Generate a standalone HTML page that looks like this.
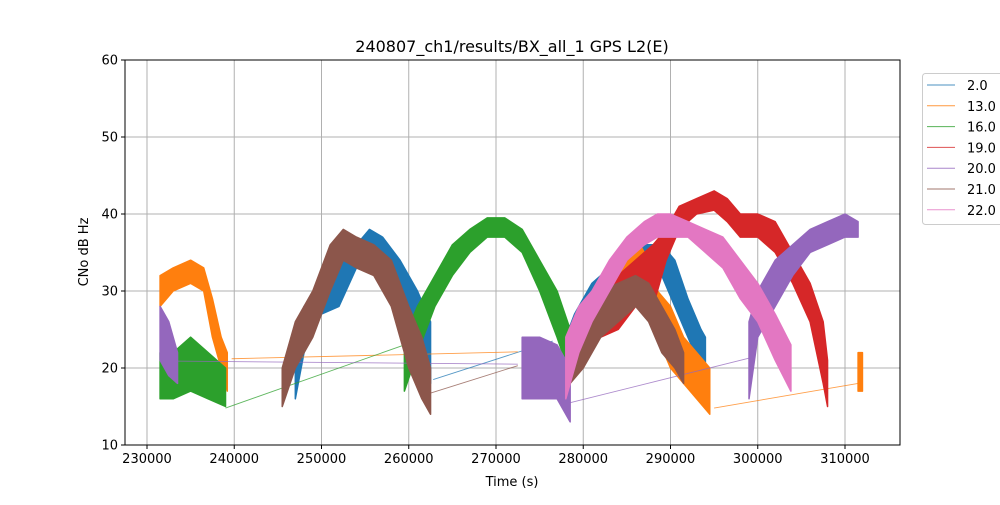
<!DOCTYPE html>
<html><head><meta charset="utf-8">
<style>
body{margin:0;background:#fff;font-family:"Liberation Sans","DejaVu Sans",sans-serif;}
svg text{font-family:"DejaVu Sans","Liberation Sans",sans-serif;}
</style></head>
<body>
<svg id="chart" width="1000" height="500" viewBox="0 0 1000 500" xmlns="http://www.w3.org/2000/svg">
<rect width="1000" height="500" fill="#fff"/>
<text x="512" y="52" font-size="16" text-anchor="middle">240807_ch1/results/BX_all_1 GPS L2(E)</text>
<g id="grid"></g>
<g id="plot"></g>
<rect x="125" y="60" width="775" height="385" fill="none" stroke="#000" stroke-width="1"/>
<g id="axes"></g>
<text x="512" y="486" font-size="13" text-anchor="middle">Time (s)</text>
<text transform="translate(88,252) rotate(-90)" font-size="13" text-anchor="middle">CNo dB Hz</text>
<g id="legend"></g>
</svg>
<script>
// ---- data (time in thousands of seconds, CNo in dB Hz) ----
const xTicks = [230000,240000,250000,260000,270000,280000,290000,300000,310000];
const yTicks = [10,20,30,40,50,60];
const seriesNames = ["2.0","13.0","16.0","19.0","20.0","21.0","22.0"];
const seriesColors = ["#1f77b4","#ff7f0e","#2ca02c","#d62728","#9467bd","#8c564b","#e377c2"];

// PRN 2.0
const t2  = [[247,248,250,252,254,255.5,257,259,261,262.5],[278,279,281,283,285,287,289,290.5,292,293.5,294]];
const lo2 = [[16,22,27,28,33,34,33,28,22,18],[20,20,25,28,31,33,32,28,24,20,19]];
const hi2 = [[22,28,31,33,36,38,37,34,30,26],[24,27,31,33,35,36,36,34,29,25,24]];
const link2 = [[262.8,18.5,276.5,23.5]];
// PRN 13.0
const t13  = [[231.5,233,235,236.5,237.5,238.5,239.2],[278,280,283,285,286.5,287.5,288.5,290,291.5,293,294.5],[311.5,312]];
const lo13 = [[28,30,31,30,24,20,17],[18,22,27,30,32,28,24,20,18,16,14],[17,17]];
const hi13 = [[32,33,34,33,29,24,22],[22,28,31,34,36,34,30,28,24,22,20],[22,22]];
const link13 = [[239.7,21.2,272.5,22.1],[295,14.8,311.5,18]];
// PRN 16.0
const t16  = [[231.5,233,235,237,239],[259.5,261,263,265,267,269,271,273,275,277,278.5]];
const lo16 = [[16,16,17,16,15],[17,22,28,32,35,37,37,35,30,24,19]];
const hi16 = [[22,22,24,22,20],[24,28,32,36,38,39.5,39.5,38,34,30,25]];
const link16 = [[239,14.8,259.5,23]];
// PRN 19.0
const t19  = [[280,282,284,286,288,289.5,291,293,295,296.5,298,300,302,304,306,307.5,308]];
const lo19 = [[22,24,25,28,28,34,38,40,40.5,39,37,37,35,31,26,18,15]];
const hi19 = [[28,30,32,34,36,38,41,42,43,42,40,40,39,35,31,26,21]];
const link19 = [];
// PRN 20.0
const t20  = [[231.5,232.5,233.5],[273,275,277,278.5],[299,300,302,304,306,308,310,311.5]];
const lo20 = [[21,19,18],[16,16,16,13],[16,24,28,32,35,36,37,37]];
const hi20 = [[28,26,22],[24,24,23,20],[26,30,34,36,38,39,40,39]];
const link20 = [[232.6,20.9,272.5,20.5],[278.5,15.5,299.1,21.3]];
// PRN 21.0
const t21  = [[245.5,247,249,251,252.5,254,256,258,260,261.5,262.5],[278.5,280,282,284,286,287.5,289,290.5,291.5]];
const lo21 = [[15,20,24,30,34,33,32,28,20,16,14],[18,20,24,26,28,26,22,20,18]];
const hi21 = [[20,26,30,36,38,37,36,34,28,24,20],[24,26,30,31,32,31,28,25,22]];
const link21 = [[262.1,16.6,272.5,20.3]];
// PRN 22.0
const t22  = [[278,279.5,281,283,285,287,288.5,290,292,294,296,298,300,302,303.8]];
const lo22 = [[16,22,26,30,34,36,37,37,37,35,33,29,26,21,17]];
const hi22 = [[24,28,30,34,37,39,40,40,39,38,37,34,31,27,23]];
const link22 = [];

const allT=[t2,t13,t16,t19,t20,t21,t22], allLo=[lo2,lo13,lo16,lo19,lo20,lo21,lo22], allHi=[hi2,hi13,hi16,hi19,hi20,hi21,hi22], allLink=[link2,link13,link16,link19,link20,link21,link22];

// ---- axes ----
const NS="http://www.w3.org/2000/svg";
const X0=125,X1=900,Y0=60,Y1=445;
const xMin=227479,xMax=316304,yMin=10,yMax=60;
function sx(v){return X0+(v-xMin)/(xMax-xMin)*(X1-X0);}
function sy(v){return Y1-(v-yMin)/(yMax-yMin)*(Y1-Y0);}
function mk(tag,attrs,parent){const e=document.createElementNS(NS,tag);for(const k in attrs)e.setAttribute(k,attrs[k]);parent.appendChild(e);return e;}
const grid=document.getElementById('grid'),axes=document.getElementById('axes'),plot=document.getElementById('plot'),legend=document.getElementById('legend');

xTicks.forEach(v=>{
  const x=sx(v);
  const g=mk('line',{x1:x,x2:x,y1:Y0,y2:Y1,stroke:'#b0b0b0','stroke-width':1},grid);
  
  
  const t=mk('line',{x1:x,x2:x,y1:Y1,y2:Y1+4,stroke:'#000'},axes);
  
  
  const l=mk('text',{x:x,y:Y1+18,'font-size':13,'text-anchor':'middle'},axes);
  l.textContent=v;
  
  
});
yTicks.forEach(v=>{
  const y=sy(v);
  const g=mk('line',{x1:X0,x2:X1,y1:y,y2:y,stroke:'#b0b0b0','stroke-width':1},grid);
  
  
  const t=mk('line',{x1:X0-4,x2:X0,y1:y,y2:y,stroke:'#000'},axes);
  
  
  const l=mk('text',{x:X0-7,y:y+4.5,'font-size':13,'text-anchor':'end'},axes);
  l.textContent=v;
  
  
});

// ---- series ----
allT.forEach((segs,si)=>{
  const col=seriesColors[si];
  allLink[si].forEach(L=>{
    const ln=mk('line',{x1:sx(L[0]*1000),y1:sy(L[1]),x2:sx(L[2]*1000),y2:sy(L[3]),stroke:col,'stroke-width':0.9,opacity:0.75},plot);
    
    
  });
  segs.forEach((ts,k)=>{
    const lo=allLo[si][k],hi=allHi[si][k];
    const up=ts.map((t,i)=>sx(t*1000)+','+sy(hi[i]));
    const dn=ts.map((t,i)=>sx(t*1000)+','+sy(lo[i])).reverse();
    const p=mk('polygon',{points:up.concat(dn).join(' '),fill:col,stroke:col,'stroke-width':1.5,'stroke-linejoin':'round'},plot);
    
    
  });
});

// ---- legend ----
const box=mk('rect',{x:922.5,y:73.5,width:80,height:151,rx:3,fill:'#fff',stroke:'#ccc'},legend);


seriesNames.forEach((n,i)=>{
  const y=85+i*20.8;
  const ln=mk('line',{x1:927,x2:955,y1:y,y2:y,stroke:seriesColors[i],'stroke-width':1,opacity:0.8},legend);
  
  
  const tx=mk('text',{x:967,y:y+5,'font-size':13},legend);
  tx.textContent=n;
  
  
});
</script>
</body></html>
